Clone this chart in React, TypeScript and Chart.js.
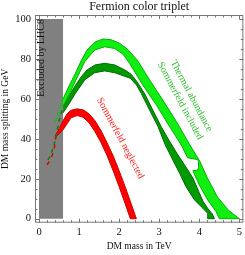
import React, { useEffect, useRef } from 'react';
import { Chart, registerables } from 'chart.js';

Chart.register(...registerables);

// ---- axis ticks ----
const xMajorTicks = [0, 1, 2, 3, 4, 5];
const yMajorTicks = [0, 20, 40, 60, 80, 100];
const xMinorStep = 0.2;
const yMinorStep = 5;

// ---- excluded region (LHC8) ----
const excludedX = [0, 0.6];
const excludedY = [0, 100];

// ---- light green band (thermal abundance, Sommerfeld included) ----
const lightUpper: [number, number][] = [
  [0.6, 60], [0.75, 66.5], [0.9, 72.5], [1.05, 79], [1.2, 84.5], [1.4, 88.5], [1.6, 90],
  [1.8, 89.6], [2.0, 88], [2.2, 85], [2.45, 79.5], [2.76, 69.5], [3.09, 59.4], [3.43, 48.6],
  [3.74, 37.8], [4.02, 28.5], [4.2, 20.5], [4.45, 11], [4.72, 4.4], [5.0, 0],
];
const lightLower: [number, number][] = [
  [4.5, 0], [4.42, 3.5], [4.21, 9.4], [4.0, 16.9], [3.84, 24.0], [3.96, 24.4], [3.98, 25.5],
  [3.98, 28.6], [3.96, 29.6], [3.71, 30.5], [3.55, 36.9], [3.26, 46.1], [2.93, 56.9],
  [2.59, 66.9], [2.26, 77.8], [2.1, 82.3], [1.89, 85.2], [1.64, 86.1], [1.39, 84.5],
  [1.14, 78.6], [0.9, 68.5], [0.75, 62], [0.6, 56.5],
];

// ---- dark green band ----
const darkUpper: [number, number][] = [
  [0.6, 56.5], [0.75, 61.5], [0.9, 66.5], [1.05, 71], [1.2, 74.5], [1.4, 77], [1.64, 77.8],
  [1.89, 77], [2.14, 74.5], [2.3, 72.3], [2.45, 68.5], [2.64, 62.5], [2.84, 54.4], [3.05, 46.1],
  [3.25, 39], [3.45, 32.5], [3.63, 27], [3.84, 20.4], [4.0, 13], [4.1, 8.5], [4.21, 5.2],
  [4.32, 2.5], [4.38, 0],
];
const darkLower: [number, number][] = [
  [4.21, 0], [4.21, 2.7], [4.09, 5.2], [3.88, 9.4], [3.67, 16], [3.51, 22.7], [3.35, 29],
  [3.15, 37], [2.97, 46.1], [2.76, 54.4], [2.55, 62.8], [2.43, 67], [2.28, 70.3], [2.14, 71.3],
  [1.89, 73.1], [1.64, 74], [1.39, 73.1], [1.14, 69.5], [0.9, 62.5], [0.75, 57.5], [0.6, 53],
];

// ---- red band (Sommerfeld neglected) ----
const redUpper: [number, number][] = [
  [0.4, 41.2], [0.5, 45], [0.6, 49], [0.7, 52.5], [0.8, 54.3], [0.95, 55], [1.1, 54.5],
  [1.25, 52.5], [1.4, 49], [1.55, 44], [1.7, 38], [1.85, 31.5], [2.0, 24], [2.15, 16],
  [2.3, 7.5], [2.43, 0],
];
const redLower: [number, number][] = [
  [2.28, 0], [2.15, 7.5], [2.0, 16], [1.85, 24], [1.7, 31.5], [1.55, 38], [1.4, 43.5],
  [1.25, 48], [1.1, 50.8], [0.95, 51.7], [0.8, 50.5], [0.7, 47.5], [0.6, 44.5], [0.5, 42.5],
  [0.4, 40.5],
];

// ---- dashed continuations inside the excluded region ----
const redDash: [number, number][] = [[0.2, 27], [0.3, 30], [0.38, 35], [0.42, 41]];
const darkDash: [number, number][] = [[0.22, 29.5], [0.3, 32], [0.4, 39], [0.5, 49], [0.6, 56]];
const lightDash: [number, number][] = [[0.4, 48.5], [0.5, 53.5], [0.6, 60.5]];

const SERIF = "'Liberation Serif', 'Times New Roman', serif";

const toPts = (arr: [number, number][]) => arr.map(([x, y]) => ({ x, y }));
const polygon = (upper: [number, number][], lower: [number, number][]) =>
  toPts([...upper, ...lower]);

const framePlugin = {
  id: 'frameAndLabels',
  afterDatasetsDraw(chart: any) {
    const { ctx, chartArea: a, scales } = chart;
    const xs = scales.x;
    const ys = scales.y;
    ctx.save();
    ctx.strokeStyle = '#777';
    ctx.lineWidth = 1;
    ctx.strokeRect(a.left + 0.5, a.top + 0.5, a.right - a.left - 1, a.bottom - a.top - 1);

    const major = 4;
    const minor = 2.5;
    ctx.beginPath();
    for (let v = xMajorTicks[0]; v <= xMajorTicks[xMajorTicks.length - 1] + 1e-9; v += xMinorStep) {
      const isMajor = Math.abs(v - Math.round(v)) < 1e-6;
      const len = isMajor ? major : minor;
      const px = Math.round(xs.getPixelForValue(v)) + 0.5;
      ctx.moveTo(px, a.bottom);
      ctx.lineTo(px, a.bottom - len);
      ctx.moveTo(px, a.top);
      ctx.lineTo(px, a.top + len);
    }
    for (let v = yMajorTicks[0]; v <= yMajorTicks[yMajorTicks.length - 1] + 1e-9; v += yMinorStep) {
      const isMajor = Math.abs(v % 20) < 1e-6;
      const len = isMajor ? major : minor;
      const py = Math.round(ys.getPixelForValue(v)) + 0.5;
      ctx.moveTo(a.left, py);
      ctx.lineTo(a.left + len, py);
      ctx.moveTo(a.right, py);
      ctx.lineTo(a.right - len, py);
    }
    ctx.stroke();

    ctx.fillStyle = '#111';
    ctx.font = `12px ${SERIF}`;
    ctx.textAlign = 'center';
    ctx.textBaseline = 'alphabetic';
    ctx.fillText('Fermion color triplet', (a.left + a.right) / 2, 9.5);

    const rotText = (text: string, x: number, y: number, deg: number, color: string, size: number) => {
      ctx.save();
      ctx.translate(xs.getPixelForValue(x), ys.getPixelForValue(y));
      ctx.rotate((deg * Math.PI) / 180);
      ctx.fillStyle = color;
      ctx.font = `${size}px ${SERIF}`;
      ctx.textAlign = 'center';
      ctx.textBaseline = 'middle';
      ctx.fillText(text, 0, 0);
      ctx.restore();
    };
    rotText('Excluded by LHC8', 0.07, 80.5, -90, '#111', 10);
    rotText('Sommerfeld neglected', 2.03, 40.3, 62, '#ff1a1a', 10);
    rotText('Thermal abundance', 3.8, 61.5, 62, '#33bb33', 10);
    rotText('Sommerfeld included', 3.52, 59.0, 62, '#33bb33', 10);
    ctx.restore();
  },
};

export default function App() {
  const ref = useRef<HTMLCanvasElement | null>(null);
  useEffect(() => {
    if (!ref.current) return;
    const chart = new Chart(ref.current, {
      type: 'scatter',
      data: {
        datasets: [
          {
            data: toPts([
              [excludedX[0], excludedY[0]], [excludedX[1], excludedY[0]],
              [excludedX[1], excludedY[1]], [excludedX[0], excludedY[1]],
            ]),
            showLine: true, fill: 'shape', backgroundColor: '#808080', borderColor: '#808080',
            borderWidth: 0, pointRadius: 0, order: 10,
          } as any,
          {
            data: polygon(lightUpper, lightLower),
            showLine: true, fill: 'shape', backgroundColor: '#11ee11', borderColor: '#00b000',
            borderWidth: 1, pointRadius: 0, order: 5,
          } as any,
          {
            data: polygon(darkUpper, darkLower),
            showLine: true, fill: 'shape', backgroundColor: '#009a00', borderColor: '#006a00',
            borderWidth: 1, pointRadius: 0, order: 5,
          } as any,
          {
            data: polygon(redUpper, redLower),
            showLine: true, fill: 'shape', backgroundColor: '#ff0000', borderColor: '#cc0000',
            borderWidth: 1, pointRadius: 0, order: 5,
          } as any,
          {
            data: toPts(redDash), showLine: true, borderColor: '#dd0000', borderWidth: 1.5,
            borderDash: [4, 5], pointRadius: 0, order: 1,
          } as any,
          {
            data: toPts(darkDash), showLine: true, borderColor: '#008800', borderWidth: 1.5,
            borderDash: [4, 4], pointRadius: 0, order: 1,
          } as any,
          {
            data: toPts(lightDash), showLine: true, borderColor: '#00cc00', borderWidth: 1.5,
            borderDash: [4, 3], pointRadius: 0, order: 1,
          } as any,
        ],
      },
      options: {
        animation: false,
        responsive: false,
        events: [],
        layout: { padding: { top: 15, left: 0, right: 1, bottom: 0 } },
        plugins: { legend: { display: false }, title: { display: false }, tooltip: { enabled: false } },
        elements: { line: { tension: 0 } },
        scales: {
          x: {
            type: 'linear', min: -0.1, max: 5.1,
            grid: { display: false, drawTicks: false },
            border: { display: false },
            afterBuildTicks: (s: any) => { s.ticks = xMajorTicks.map((v) => ({ value: v })); },
            afterFit: (s: any) => { s.height = 32.3; },
            ticks: { padding: 3, color: '#111', font: { family: SERIF, size: 10.5 }, maxRotation: 0, callback: (v: any) => String(v) },
            title: { display: true, text: 'DM mass in TeV', color: '#111', font: { family: SERIF, size: 9.5 }, padding: { top: 0, bottom: 3 } },
          },
          y: {
            type: 'linear', min: -2, max: 102,
            grid: { display: false, drawTicks: false },
            border: { display: false },
            afterBuildTicks: (s: any) => { s.ticks = yMajorTicks.map((v) => ({ value: v })); },
            afterFit: (s: any) => { s.width = 35; },
            ticks: { padding: 4, color: '#111', font: { family: SERIF, size: 10.5 }, callback: (v: any) => String(v) },
            title: { display: true, text: 'DM mass splitting in GeV', color: '#111', font: { family: SERIF, size: 9.5 }, padding: { top: 0, bottom: 0 } },
          },
        },
      } as any,
      plugins: [framePlugin],
    });
    return () => chart.destroy();
  }, []);
  return (
    <div style={{ position: 'fixed', left: 0, top: 0, width: 245, height: 255, background: '#fff' }}>
      <canvas ref={ref} width={245} height={255} style={{ display: 'block' }} />
    </div>
  );
}
